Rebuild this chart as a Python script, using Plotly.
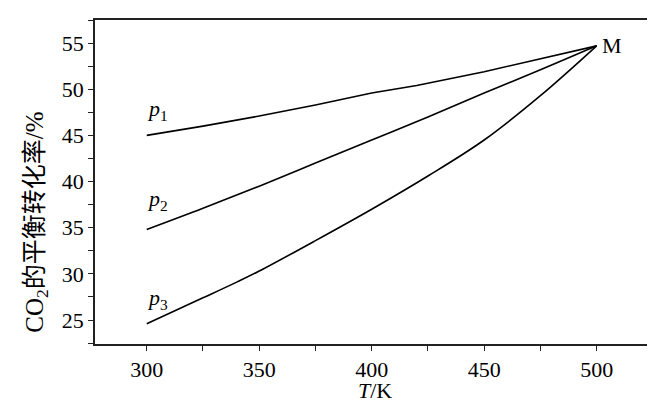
import plotly.graph_objects as go

# Data
T_p1 = [300, 325, 350, 375, 400, 420, 450, 475, 500]
p1 = [45.0, 46.0, 47.1, 48.3, 49.6, 50.4, 51.9, 53.3, 54.7]

T_p2 = [300, 325, 350, 375, 400, 425, 450, 475, 500]
p2 = [34.8, 37.1, 39.5, 42.0, 44.5, 47.0, 49.6, 52.1, 54.7]

T_p3 = [300, 325, 340, 350, 375, 400, 425, 450, 475, 500]
p3 = [24.6, 27.4, 29.1, 30.3, 33.6, 37.0, 40.6, 44.5, 49.3, 54.7]

series_names = ["<i>p</i><sub>1</sub>", "<i>p</i><sub>2</sub>", "<i>p</i><sub>3</sub>"]
point_label = "M"

x_tickvals = [275, 300, 325, 350, 375, 400, 425, 450, 475, 500, 525]
x_ticktext = ["", "300", "", "350", "", "400", "", "450", "", "500", ""]
y_tickvals = [22.5, 25, 27.5, 30, 32.5, 35, 37.5, 40, 42.5, 45, 47.5, 50, 52.5, 55, 57.5]
y_ticktext = ["", "25", "", "30", "", "35", "", "40", "", "45", "", "50", "", "55", ""]

x_title = "<i>T</i>/K"
y_title = "CO<sub>2</sub>的平衡转化率/%"

FONT = "Liberation Serif, Times New Roman, Noto Sans CJK SC, serif"
FS = 22

fig = go.Figure()
for xs, ys, shape in [(T_p1, p1, "linear"), (T_p2, p2, "spline"), (T_p3, p3, "spline")]:
    fig.add_trace(go.Scatter(x=xs, y=ys, mode="lines",
                             line=dict(color="black", width=1.6, shape=shape),
                             showlegend=False, hoverinfo="skip"))

# series labels near the start of each curve
for xs, ys, name, dy in [(T_p1, p1, series_names[0], 2.8),
                         (T_p2, p2, series_names[1], 3.15),
                         (T_p3, p3, series_names[2], 2.7)]:
    fig.add_annotation(x=xs[0] + 5, y=ys[0] + dy, text=name, showarrow=False,
                       font=dict(family=FONT, size=22, color="black"))

fig.add_annotation(x=T_p1[-1], y=p1[-1], text=point_label, showarrow=False,
                   xanchor="left", xshift=3,
                   font=dict(family=FONT, size=FS, color="black"))

fig.add_annotation(xref="paper", yref="paper", x=-0.104, y=0.377, text=y_title,
                   textangle=-90, showarrow=False, xanchor="center", yanchor="middle",
                   font=dict(family=FONT, size=25, color="black"))

fig.add_annotation(xref="paper", yref="paper", x=0.5, y=-0.142, yanchor="middle",
                   text=x_title, showarrow=False,
                   font=dict(family=FONT, size=FS, color="black"))

fig.update_layout(
    width=655, height=403,
    margin=dict(l=87, r=9, t=12, b=67),
    paper_bgcolor="white", plot_bgcolor="white",
    font=dict(family=FONT, size=FS, color="black"),
)
fig.update_xaxes(range=[277, 525.5], tickvals=x_tickvals, ticktext=x_ticktext,
                 ticks="outside", ticklen=5, tickwidth=1.3, tickcolor="#222",
                 showline=True, linecolor="#222", linewidth=1.5, mirror=True,
                 showgrid=False, zeroline=False, automargin=False,
                 tickfont=dict(family=FONT, size=FS, color="black"))
fig.update_yaxes(range=[22.4, 57.5], tickvals=y_tickvals, ticktext=y_ticktext,
                 ticks="outside", ticklen=5, tickwidth=1.3, tickcolor="#222",
                 showline=True, linecolor="#222", linewidth=1.5, mirror=True,
                 showgrid=False, zeroline=False, automargin=False,
                 tickfont=dict(family=FONT, size=FS, color="black"))

fig.write_html("out.html")
